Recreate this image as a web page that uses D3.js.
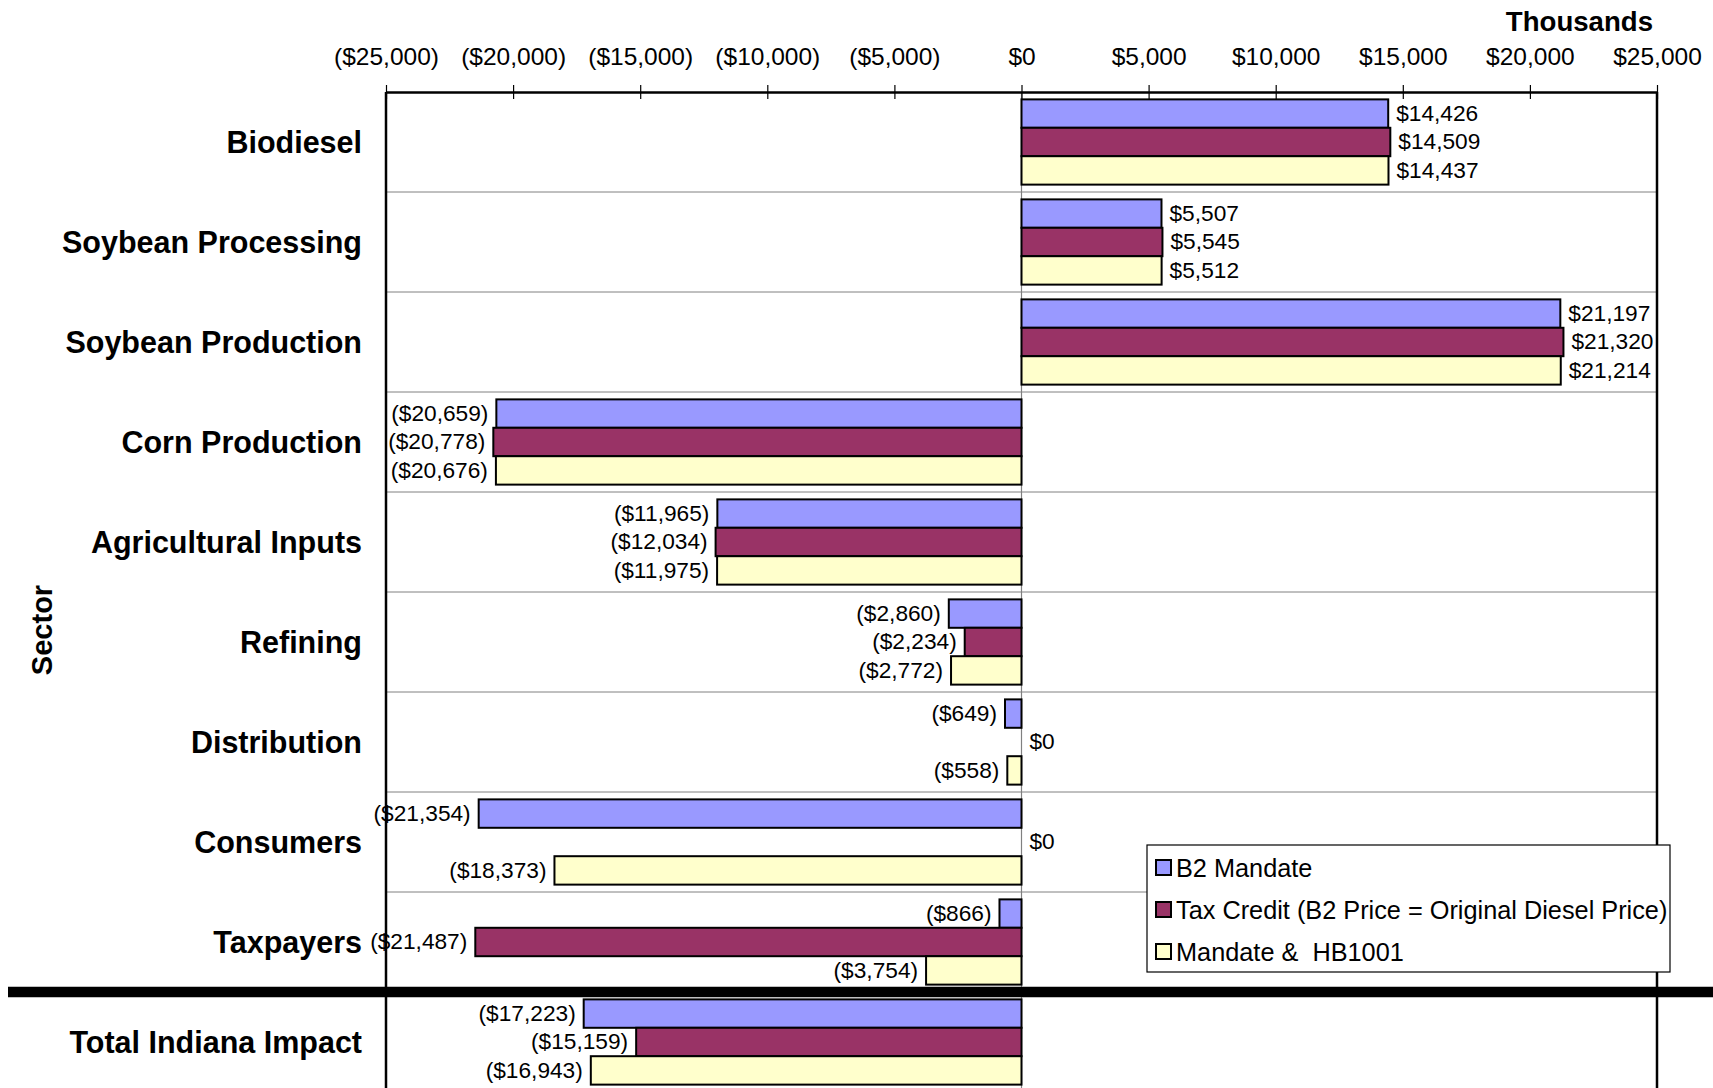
<!DOCTYPE html>
<html><head><meta charset="utf-8">
<script src="https://cdn.jsdelivr.net/npm/d3@7"></script>
<style>
html,body{margin:0;padding:0;background:#fff;}
svg{display:block;font-family:"Liberation Sans",Arial,sans-serif;}
</style></head>
<body>
<svg id="chart" width="1713" height="1088"></svg>
<script>
const categories = ["Biodiesel","Soybean Processing","Soybean Production","Corn Production","Agricultural Inputs","Refining","Distribution","Consumers","Taxpayers","Total Indiana Impact"];
const seriesNames = ["B2 Mandate","Tax Credit (B2 Price = Original Diesel Price)","Mandate &  HB1001"];
const b2Mandate = [14426,5507,21197,-20659,-11965,-2860,-649,-21354,-866,-17223];
const taxCredit = [14509,5545,21320,-20778,-12034,-2234,0,0,-21487,-15159];
const mandateHB = [14437,5512,21214,-20676,-11975,-2772,-558,-18373,-3754,-16943];
const tickValues = [-25000,-20000,-15000,-10000,-5000,0,5000,10000,15000,20000,25000];
const colors = ["#9999FF","#993366","#FFFFCC"];

(function(){
const series = [b2Mandate, taxCredit, mandateHB];
const svg = d3.select("#chart");
const pLeft = 386, pRight = 1657, pTop = 92, rowH = 100;

const x = d3.scaleLinear().domain([-25000,25000]).range([pLeft,pRight]);
const y = d3.scaleBand().domain(categories).range([pTop, pTop + rowH*categories.length]).padding(0);
const yInner = d3.scaleBand().domain(d3.range(3)).range([0, y.bandwidth()]).paddingInner(0).paddingOuter(0.26);

const fmt = v => {
  const s = "$" + d3.format(",")(Math.abs(v));
  return v < 0 ? "(" + s + ")" : s;
};

// row separators (thin grey)
svg.append("g").selectAll("line").data(categories.slice(1, categories.length-1)).join("line")
  .attr("x1", pLeft).attr("x2", pRight)
  .attr("y1", d => y(d)).attr("y2", d => y(d))
  .attr("stroke", "#808080").attr("stroke-width", 1);

// zero line
svg.append("line").attr("x1", x(0)).attr("x2", x(0)).attr("y1", pTop).attr("y2", 1088)
  .attr("stroke", "#808080").attr("stroke-width", 1.2);

// bars
const groups = svg.append("g").selectAll("g").data(categories).join("g")
  .attr("transform", d => `translate(0,${y(d)})`);
groups.each(function(cat, ci) {
  const g = d3.select(this);
  series.forEach((arr, si) => {
    const v = arr[ci];
    const y0 = yInner(si), h = yInner.bandwidth();
    if (v !== 0) {
      g.append("rect")
        .attr("x", Math.min(x(0), x(v)))
        .attr("y", y0)
        .attr("width", Math.abs(x(v) - x(0)))
        .attr("height", h)
        .attr("fill", colors[si]).attr("stroke", "#000").attr("stroke-width", 2);
    }
    g.append("text")
      .attr("x", v < 0 ? x(v) - 8 : x(v) + 8)
      .attr("y", y0 + h/2)
      .attr("dy", "0.32em")
      .attr("text-anchor", v < 0 ? "end" : "start")
      .attr("font-size", 22.7)
      .attr("fill", "#000")
      .text(fmt(v));
  });
});

// left & right frame
svg.append("line").attr("x1", pLeft).attr("x2", pLeft).attr("y1", pTop).attr("y2", 1088).attr("stroke","#000").attr("stroke-width",2.5);
svg.append("line").attr("x1", pRight).attr("x2", pRight).attr("y1", pTop).attr("y2", 1088).attr("stroke","#000").attr("stroke-width",2.5);

// top axis
const axis = d3.axisTop(x).tickValues(tickValues).tickFormat(fmt).tickSize(7).tickSizeOuter(0);
const ax = svg.append("g").attr("transform", `translate(0,${pTop})`).call(axis);
ax.select(".domain").attr("stroke","#000").attr("stroke-width",2.5);
ax.selectAll(".tick line").attr("y1", 7).attr("y2", -7).attr("stroke","#000").attr("stroke-width",1.2);
ax.selectAll(".tick text").attr("y", -36).attr("dy","0.36em").attr("font-size", 24.5)
  .attr("font-family",'"Liberation Sans",Arial,sans-serif').attr("fill","#000");

// Thousands
svg.append("text").attr("x", 1653).attr("y", 21).attr("dy","0.36em").attr("text-anchor","end")
  .attr("font-size", 27.6).attr("font-weight","bold").text("Thousands");

// category labels
svg.append("g").selectAll("text").data(categories).join("text")
  .attr("x", 362).attr("y", d => y(d) + y.bandwidth()/2).attr("dy","0.36em")
  .attr("text-anchor","end").attr("font-size", 30.5).attr("font-weight","bold").text(d => d);

// Sector title
svg.append("text").attr("transform","translate(42,630) rotate(-90)").attr("dy","0.36em")
  .attr("text-anchor","middle").attr("font-size", 29).attr("font-weight","bold").text("Sector");

// thick separator before Total
svg.append("line").attr("x1", 8).attr("x2", 1713)
  .attr("y1", y("Total Indiana Impact")).attr("y2", y("Total Indiana Impact"))
  .attr("stroke","#000").attr("stroke-width", 10.5);

// legend
const lg = svg.append("g").attr("transform","translate(1147,845)");
lg.append("rect").attr("x",0).attr("y",0).attr("width",523).attr("height",127)
  .attr("fill","#fff").attr("stroke","#000").attr("stroke-width",1.2);
const li = lg.selectAll("g").data(seriesNames).join("g")
  .attr("transform",(d,i)=>`translate(9,${22.5 + i*42})`);
li.append("rect").attr("x",0).attr("y",-7.5).attr("width",15).attr("height",15)
  .attr("fill",(d,i)=>colors[i]).attr("stroke","#000").attr("stroke-width",2);
li.append("text").attr("x",20).attr("y",0).attr("dy","0.36em").attr("font-size",25.3)
  .style("white-space","pre").attr("xml:space","preserve").text(d=>d);
})();
</script>
</body></html>
